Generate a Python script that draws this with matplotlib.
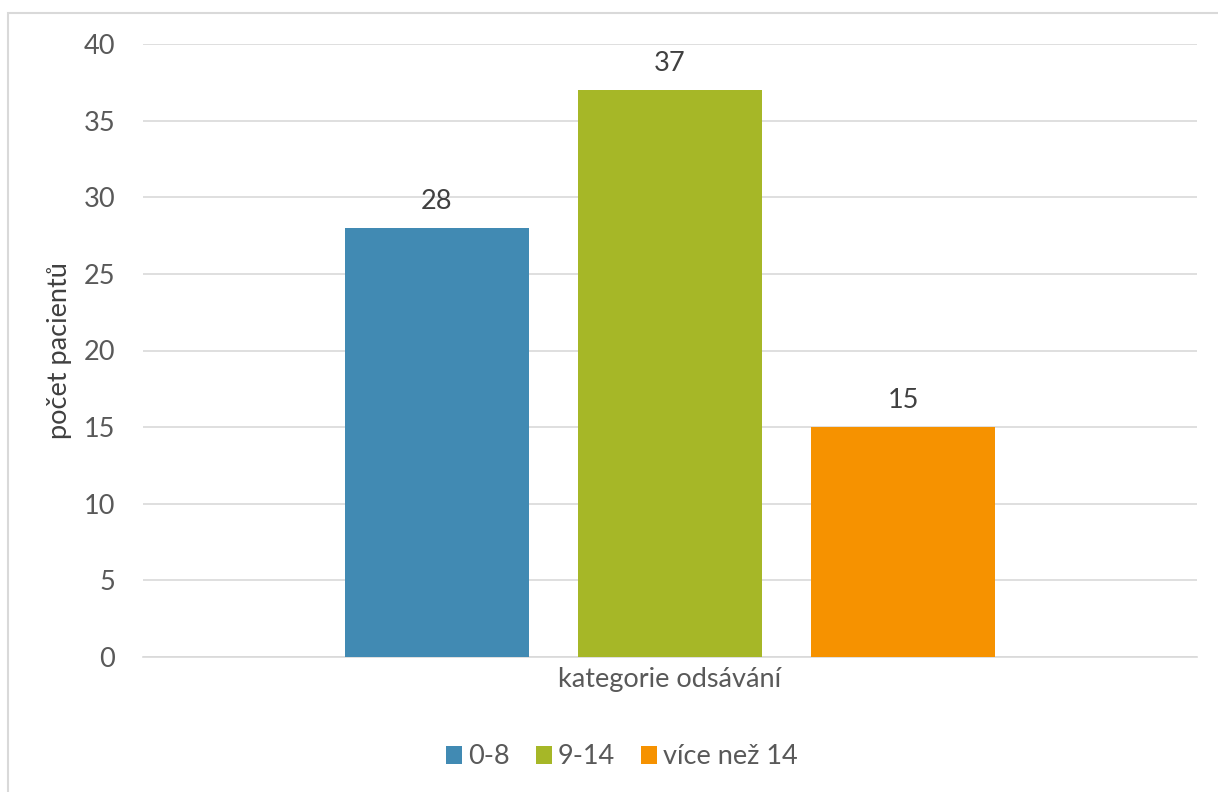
import matplotlib
matplotlib.use("Agg")
import matplotlib.pyplot as plt
from matplotlib.patches import Rectangle

category = "kategorie odsávání"
series = ["0-8", "9-14", "více než 14"]
values = [28, 37, 15]
colors = ["#418AB3", "#A6B727", "#F69200"]
y_ticks = [0, 5, 10, 15, 20, 25, 30, 35, 40]
y_label = "počet pacientů"

text_color = "#595959"
grid_color = "#D9D9D9"
fs = 19.5

plt.rcParams["font.family"] = ["Lato", "DejaVu Sans"]

fig = plt.figure(figsize=(12.18, 7.92), dpi=100)
ax = fig.add_axes([143 / 1218, 1 - 657 / 792, 1054 / 1218, 613 / 792])

# chart area outline
fig.patches.append(Rectangle((8 / 1218, -0.1), 1.2, 1 - 13 / 792 + 0.1,
                             transform=fig.transFigure, fill=False,
                             edgecolor="#D9D9D9", linewidth=1.5, zorder=0))

positions = [-1, 0, 1]
bars = ax.bar(positions, values, width=0.788, color=colors, label=series, zorder=3)
for b, v in zip(bars, values):
    ax.annotate(str(v), (b.get_x() + b.get_width() / 2, v), xytext=(0, 10),
                textcoords="offset points", ha="center", va="bottom",
                fontsize=fs, color="#404040")

ax.set_xlim(-2.257, 2.257)
ax.set_ylim(0, 40)
ax.set_yticks(y_ticks)
ax.set_xticks([0])
ax.set_xticklabels([category])
ax.tick_params(axis="both", length=0, labelsize=fs, colors=text_color)
ax.tick_params(axis="y", pad=20)
ax.tick_params(axis="x", pad=7)
ax.grid(axis="y", color=grid_color, linewidth=1.2, zorder=0)
for s in ["top", "right", "left"]:
    ax.spines[s].set_visible(False)
ax.spines["bottom"].set_color(grid_color)
ax.spines["bottom"].set_linewidth(1.2)

ax.set_ylabel(y_label, fontsize=fs, color="#404040", labelpad=8)

fig.legend(handles=bars, labels=series, loc="center", ncol=3,
           bbox_to_anchor=(622 / 1218, 1 - 757 / 792), frameon=False,
           fontsize=fs, labelcolor=text_color, handlelength=0.6,
           handleheight=0.6, handletextpad=0.22, columnspacing=0.95)

fig.savefig("out.png", dpi=100)
